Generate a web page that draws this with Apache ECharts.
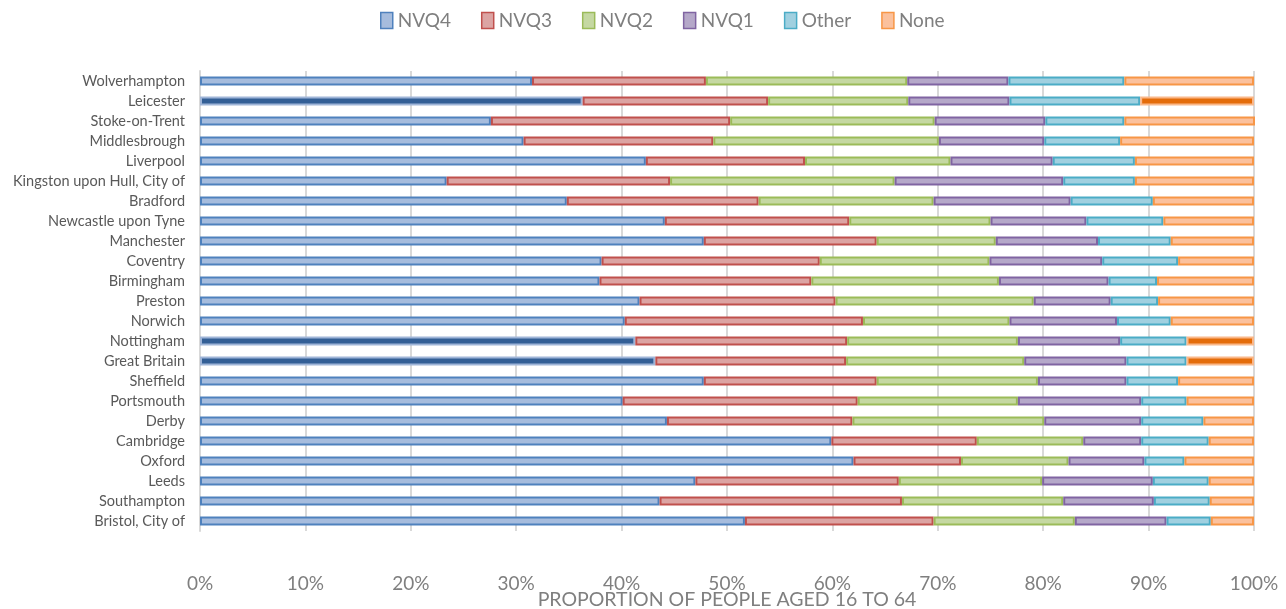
<!DOCTYPE html>
<html>
<head>
<meta charset="utf-8">
<script src="https://cdn.jsdelivr.net/npm/echarts@6/dist/echarts.min.js"></script>
<style>html,body{margin:0;padding:0;background:#fff}#c{width:1286px;height:609px}</style>
</head>
<body>
<div id="c"></div>
<script>
const categories = ["Wolverhampton","Leicester","Stoke-on-Trent","Middlesbrough","Liverpool","Kingston upon Hull, City of","Bradford","Newcastle upon Tyne","Manchester","Coventry","Birmingham","Preston","Norwich","Nottingham","Great Britain","Sheffield","Portsmouth","Derby","Cambridge","Oxford","Leeds","Southampton","Bristol, City of"];
const highlighted = ["Leicester","Nottingham","Great Britain"];
const nvq4  = [31.5,36.3,27.6,30.7,42.3,23.4,34.8,44.1,47.8,38.1,37.9,41.7,40.3,41.3,43.2,47.8,40.1,44.3,59.9,62.0,47.0,43.6,51.7];
const nvq3  = [16.5,17.6,22.7,18.0,15.1,21.2,18.2,17.5,16.4,20.7,20.1,18.6,22.6,20.1,18.1,16.4,22.3,17.6,13.8,10.2,19.3,23.0,17.9];
const nvq2  = [19.1,13.3,19.4,21.4,13.8,21.3,16.6,13.4,11.3,16.1,17.8,18.8,13.9,16.2,16.9,15.3,15.2,18.2,10.1,10.2,13.6,15.3,13.4];
const nvq1  = [9.6,9.6,10.5,10.0,9.7,16.0,13.0,9.1,9.7,10.7,10.4,7.3,10.2,9.7,9.7,8.4,11.7,9.2,5.5,7.2,10.5,8.6,8.7];
const other = [11.0,12.4,7.5,7.2,7.8,6.8,7.8,7.3,6.9,7.2,4.6,4.5,5.1,6.3,5.7,4.9,4.3,5.9,6.4,3.8,5.3,5.3,4.2];
const none  = [12.3,10.8,12.4,12.7,11.3,11.3,9.6,8.6,7.9,7.2,9.2,9.1,7.9,6.4,6.4,7.2,6.4,4.8,4.3,6.6,4.3,4.2,4.1];
const xTicks = [0,10,20,30,40,50,60,70,80,90,100];

const seriesDefs = [
  {name:"NVQ4", data:nvq4, fill:"#a6bcdd", border:"#4f81bd", hiFill:"#335f96", hiBorder:"#9fb5d8"},
  {name:"NVQ3", data:nvq3, fill:"#dca4a3", border:"#c0504d"},
  {name:"NVQ2", data:nvq2, fill:"#c5d8a2", border:"#9bbb59"},
  {name:"NVQ1", data:nvq1, fill:"#b5a8c9", border:"#8064a2"},
  {name:"Other", data:other, fill:"#a0d0e0", border:"#4bacc6"},
  {name:"None", data:none, fill:"#fbc19d", border:"#f79646", hiFill:"#e46c0a", hiBorder:"#fab88a"}
];

const series = seriesDefs.map(s => ({
  name: s.name,
  type: "bar",
  stack: "total",
  barWidth: 9,
  itemStyle: {color: s.fill, borderColor: s.border, borderWidth: 2},
  data: s.data.map((v, i) => {
    if (s.hiFill && highlighted.includes(categories[i])) {
      return {value: v, itemStyle: {color: s.hiFill, borderColor: s.hiBorder, borderWidth: 2}};
    }
    return v;
  })
}));

const chart = echarts.init(document.getElementById("c"));
chart.setOption({
  animation: false,
  textStyle: {fontFamily: "Lato"},
  legend: {
    top: 6,
    left: 375,
    itemWidth: 12,
    itemHeight: 16,
    itemGap: 30,
    textStyle: {fontSize: 19, color: "#7f7f7f", fontFamily: "Lato"},
    data: seriesDefs.map(s => ({name: s.name, icon: "rect", itemStyle: {color: s.fill, borderColor: s.border, borderWidth: 1.5}}))
  },
  grid: {left: 200, right: 32, top: 71, bottom: 78, outerBoundsMode: "none", containLabel: false},
  xAxis: {
    type: "value",
    min: 0, max: 100, interval: 10,
    axisLabel: {formatter: v => v + "%", fontSize: 19, color: "#7f7f7f", margin: 43},
    axisLine: {show: false},
    axisTick: {show: false},
    splitLine: {show: true, lineStyle: {color: "#d9d9d9", width: 2}},
    name: "PROPORTION OF PEOPLE AGED 16 TO 64",
    nameLocation: "middle",
    nameGap: 59,
    nameMoveOverlap: false,
    nameTextStyle: {fontSize: 19.5, color: "#7f7f7f"}
  },
  yAxis: {
    type: "category",
    inverse: true,
    data: categories,
    axisLabel: {fontSize: 14.5, color: "#595959", margin: 15},
    axisLine: {show: true, lineStyle: {color: "#d9d9d9", width: 2}},
    axisTick: {show: false}
  },
  series: series
});
</script>
</body>
</html>
